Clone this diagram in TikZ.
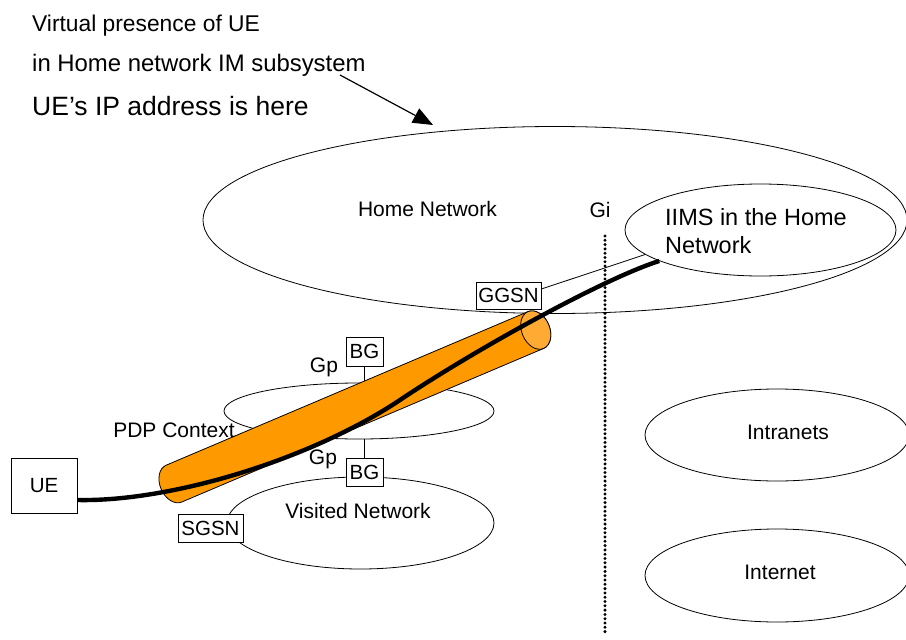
\documentclass[tikz,border=0pt]{standalone}
\usepackage{fontspec}
\setmainfont{Liberation Sans}
\usetikzlibrary{shapes.geometric,arrows.meta}
\definecolor{cylorange}{HTML}{FF9900}
\definecolor{caporange}{HTML}{FFAA33}
\tikzset{
  lab/.style={inner sep=0pt,font=\fontsize{21}{24}\selectfont},
  toplab/.style={inner sep=0pt,anchor=base west,font=\fontsize{22.8}{27}\selectfont},
  biglab/.style={inner sep=0pt,anchor=base west,font=\fontsize{26.5}{30}\selectfont},
  net/.style={draw,ellipse,inner sep=0pt,line width=0.8pt},
  boxnode/.style={draw,fill=white,rectangle,inner sep=0pt,line width=0.8pt,font=\fontsize{20.5}{24}\selectfont},
  thinline/.style={line width=0.8pt},
  dotline/.style={line width=3.3pt,line cap=round,dash pattern=on 0pt off 4.3pt},
  ueline/.style={line width=4.4pt},
}
\begin{document}
\begin{tikzpicture}[x=1pt,y=-1pt]
\useasboundingbox (0,0) rectangle (906,640);
% networks
\node[net,minimum width=704pt,minimum height=187pt] (home) at (555,220) {};
\node[net,minimum width=271pt,minimum height=92pt] (iims) at (760.5,230) {};
\node[net,minimum width=270pt,minimum height=56pt] (pdp) at (359,411) {};
\node[net,minimum width=267pt,minimum height=92pt] (visited) at (360.5,523) {};
\node[net,minimum width=264pt,minimum height=92pt] (intranets) at (777,435) {};
\node[net,minimum width=264pt,minimum height=93pt] (internet) at (777,575.5) {};
% Gi reference line
\coordinate (gtop) at (605,236);
\coordinate (gbot) at (605,635);
\draw[dotline] (gtop) -- (gbot);
% boxes
\node[boxnode,minimum width=66pt,minimum height=55pt] (ue) at (44,485.5) {UE};
\node[boxnode,minimum width=65pt,minimum height=27pt] (ggsn) at (508.5,295.5) {GGSN};
\node[boxnode,minimum width=65pt,minimum height=28pt] (sgsn) at (210.5,528) {SGSN};
\node[boxnode,minimum width=37pt,minimum height=29pt] (bg1) at (364.5,351.5) {BG};
\node[boxnode,minimum width=37pt,minimum height=28pt] (bg2) at (364.5,472) {BG};
% connectors
\draw[thinline] ([yshift=6.5pt]ggsn.east) -- (iims.192);
\draw[thinline] (bg1.south) -- (bg1.south |- pdp.north);
\draw[thinline] (bg2.north) -- (bg2.north |- pdp.south);
% PDP context tube
\begin{scope}[shift={(174,483.6)},rotate=23]
  \filldraw[fill=cylorange,line width=0.8pt] (0pt,-20pt) -- (393pt,-20pt)
    arc[start angle=-90,end angle=90,x radius=14pt,y radius=20pt]
    -- (0pt,20pt)
    arc[start angle=90,end angle=270,x radius=14pt,y radius=20pt] -- cycle;
  \filldraw[fill=caporange,line width=0.8pt] (393pt,0pt) ellipse[x radius=14pt,y radius=20pt];
\end{scope}
% UE path
\coordinate (bend) at (400,400);
\draw[ueline] ([yshift=-14.5pt]ue.east) .. controls (170,502) and (310,460) .. (bend)
  .. controls (470,353) and (600,280) .. (iims.197.6);
% arrow
\coordinate (arrS) at (340,75);
\coordinate (arrE) at (433,125);
\draw[line width=1.2pt,-{Triangle[length=20pt,width=16pt]}] (arrS) -- (arrE);
% labels
\node[toplab] (t1) at (32,31) {Virtual presence of UE};
\node[toplab,font=\fontsize{23.9}{27}\selectfont] (t2) at (32,71) {in Home network IM subsystem};
\node[biglab] (t3) at (32,115) {UE’s IP address is here};
\node[lab] (homelab) at (427.5,209) {Home Network};
\node[lab] (gi) at (600,210) {Gi};
\node[inner sep=0pt,anchor=base west,font=\fontsize{23.5}{28}\selectfont] (iims1) at (665,225) {IIMS in the Home};
\node[inner sep=0pt,anchor=base west,font=\fontsize{23.5}{28}\selectfont] (iims2) at (665,253) {Network};
\node[lab] (gp1) at (324,367) {Gp};
\node[lab] (gp2) at (323,459) {Gp};
\node[lab] (pdplab) at (174,430) {PDP Context};
\node[lab] (vislab) at (358,511) {Visited Network};
\node[lab] (intralab) at (788,432) {Intranets};
\node[lab] (interlab) at (780,572) {Internet};
\end{tikzpicture}
\end{document}
